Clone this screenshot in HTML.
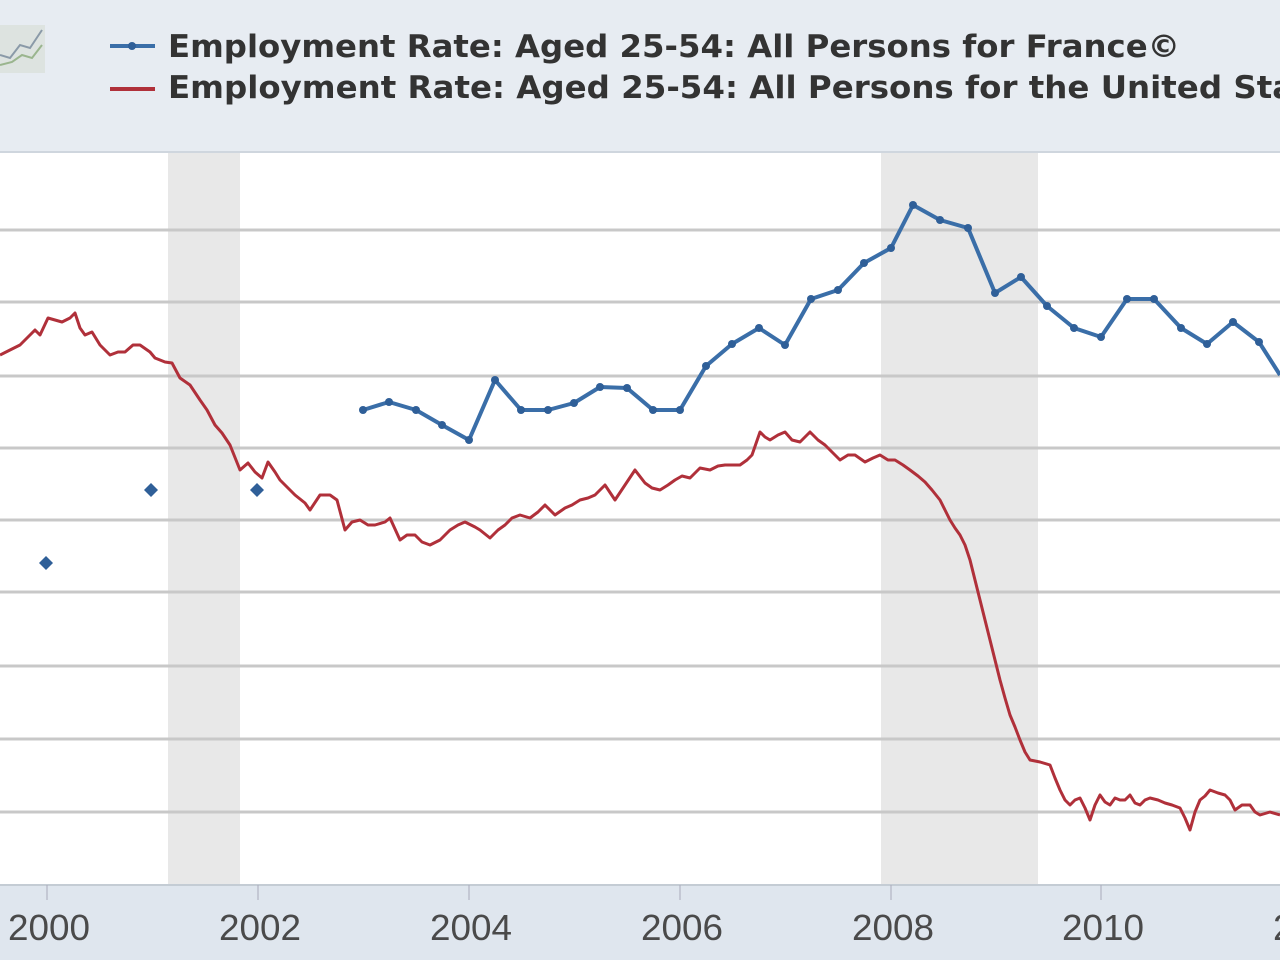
<!DOCTYPE html>
<html><head><style>
html,body{margin:0;padding:0;width:1280px;height:960px;overflow:hidden;background:#fff;font-family:"DejaVu Sans","Liberation Sans",sans-serif}
</style></head><body>
<svg width="1280" height="960" viewBox="0 0 1280 960" xmlns="http://www.w3.org/2000/svg">
<rect x="0" y="0" width="1280" height="152" fill="#e7ecf2"/>
<line x1="0" y1="152" x2="1280" y2="152" fill="none" stroke="#cfd6de" stroke-width="2"/>
<rect x="0" y="153" width="1280" height="732" fill="#fff"/>
<rect x="168" y="153" width="72" height="732" fill="#e8e8e8"/>
<rect x="881" y="153" width="157" height="732" fill="#e8e8e8"/>
<g stroke="#c8c8c8" stroke-width="3">
<line x1="0" y1="230" x2="1280" y2="230"/><line x1="0" y1="302" x2="1280" y2="302"/>
<line x1="0" y1="376" x2="1280" y2="376"/><line x1="0" y1="448" x2="1280" y2="448"/>
<line x1="0" y1="520" x2="1280" y2="520"/><line x1="0" y1="592" x2="1280" y2="592"/>
<line x1="0" y1="666" x2="1280" y2="666"/><line x1="0" y1="739" x2="1280" y2="739"/>
<line x1="0" y1="812" x2="1280" y2="812"/>
</g>
<rect x="0" y="885" width="1280" height="75" fill="#dfe6ee"/>
<line x1="0" y1="885" x2="1280" y2="885" stroke="#c4ccd4" stroke-width="2"/>
<g stroke="#aab" stroke-width="1">
<line x1="47" y1="885" x2="47" y2="900"/><line x1="258" y1="885" x2="258" y2="900"/><line x1="469" y1="885" x2="469" y2="900"/><line x1="680" y1="885" x2="680" y2="900"/><line x1="891" y1="885" x2="891" y2="900"/><line x1="1101" y1="885" x2="1101" y2="900"/>
</g>
<g font-size="36" fill="#4a4a4a" font-family="Liberation Sans, sans-serif" lengthAdjust="spacingAndGlyphs">
<text x="8" y="940" textLength="82" lengthAdjust="spacingAndGlyphs">2000</text>
<text x="219" y="940" textLength="82" lengthAdjust="spacingAndGlyphs">2002</text>
<text x="430" y="940" textLength="82" lengthAdjust="spacingAndGlyphs">2004</text>
<text x="641" y="940" textLength="82" lengthAdjust="spacingAndGlyphs">2006</text>
<text x="852" y="940" textLength="82" lengthAdjust="spacingAndGlyphs">2008</text>
<text x="1062" y="940" textLength="82" lengthAdjust="spacingAndGlyphs">2010</text>
<text x="1273" y="940" textLength="82" lengthAdjust="spacingAndGlyphs">2012</text>
</g>
<polyline fill="none" stroke="#b0303a" stroke-width="3" stroke-linejoin="round" points="0,355 10,350 20,345 30,335 35,330 40,335 48,318 55,320 62,322 70,318 75,313 80,328 85,335 92,332 100,345 110,355 118,352 125,352 133,345 140,345 150,352 155,358 165,362 172,363 180,378 190,385 200,400 207,410 215,425 222,433 230,445 240,470 248,463 255,472 262,478 268,462 275,472 280,480 295,495 305,503 310,510 320,495 330,495 337,500 345,530 352,522 360,520 368,525 375,525 385,522 390,518 400,540 407,535 415,535 422,542 430,545 440,540 450,530 458,525 465,522 475,527 480,530 490,538 498,530 505,525 512,518 520,515 530,518 538,512 545,505 555,515 565,508 572,505 580,500 588,498 595,495 602,488 605,485 615,500 625,485 635,470 645,483 652,488 660,490 668,485 675,480 682,476 690,478 700,468 710,470 718,466 725,465 732,465 740,465 747,460 752,455 760,432 765,437 770,440 778,435 785,432 792,440 800,442 810,432 818,440 825,445 832,452 840,460 848,455 855,455 865,462 873,458 880,455 888,460 895,460 903,465 910,470 918,476 925,482 932,490 940,500 945,510 950,520 955,528 960,535 965,545 970,560 975,580 980,600 985,620 990,640 995,660 1000,680 1005,698 1010,715 1015,727 1020,740 1025,752 1030,760 1040,762 1050,765 1055,778 1060,790 1065,800 1070,805 1075,800 1080,798 1085,808 1090,820 1095,805 1100,795 1105,802 1110,805 1115,798 1120,800 1125,800 1130,795 1135,803 1140,805 1145,800 1150,798 1158,800 1165,803 1172,805 1180,808 1185,818 1190,830 1195,812 1200,800 1205,796 1210,790 1218,793 1225,795 1230,800 1235,810 1242,805 1250,805 1255,812 1260,815 1270,812 1280,815"/>
<polyline fill="none" stroke="#3a6ea8" stroke-width="4" stroke-linejoin="round" points="363,410 389,402 416,410 442,425 469,440 495,380 521,410 548,410 574,403 600,387 627,388 653,410 680,410 706,366 732,344 759,328 785,345 811,299 838,290 864,263 891,248 913,205 940,220 968,228 995,293 1021,277 1047,306 1074,328 1101,337 1127,299 1154,299 1181,328 1207,344 1233,322 1259,342 1280,375"/>
<g fill="#2f5f98">
<path d="M46,556 l7,7 -7,7 -7,-7z"/><path d="M151,483 l7,7 -7,7 -7,-7z"/><path d="M257,483 l7,7 -7,7 -7,-7z"/>
</g>
<g fill="#2f5f98">
<circle cx="363" cy="410" r="4"/><circle cx="389" cy="402" r="4"/><circle cx="416" cy="410" r="4"/><circle cx="442" cy="425" r="4"/><circle cx="469" cy="440" r="4"/><circle cx="495" cy="380" r="4"/><circle cx="521" cy="410" r="4"/><circle cx="548" cy="410" r="4"/><circle cx="574" cy="403" r="4"/><circle cx="600" cy="387" r="4"/><circle cx="627" cy="388" r="4"/><circle cx="653" cy="410" r="4"/><circle cx="680" cy="410" r="4"/><circle cx="706" cy="366" r="4"/><circle cx="732" cy="344" r="4"/><circle cx="759" cy="328" r="4"/><circle cx="785" cy="345" r="4"/><circle cx="811" cy="299" r="4"/><circle cx="838" cy="290" r="4"/><circle cx="864" cy="263" r="4"/><circle cx="891" cy="248" r="4"/><circle cx="913" cy="205" r="4"/><circle cx="940" cy="220" r="4"/><circle cx="968" cy="228" r="4"/><circle cx="995" cy="293" r="4"/><circle cx="1021" cy="277" r="4"/><circle cx="1047" cy="306" r="4"/><circle cx="1074" cy="328" r="4"/><circle cx="1101" cy="337" r="4"/><circle cx="1127" cy="299" r="4"/><circle cx="1154" cy="299" r="4"/><circle cx="1181" cy="328" r="4"/><circle cx="1207" cy="344" r="4"/><circle cx="1233" cy="322" r="4"/><circle cx="1259" cy="342" r="4"/>
</g>
<!-- icon -->
<rect x="0" y="25" width="45" height="48" fill="#dde3e0"/>
<polyline points="0,55 10,58 20,45 30,48 42,30" fill="none" stroke="#8a9aa8" stroke-width="2"/>
<polyline points="0,65 12,62 22,55 32,58 42,45" fill="none" stroke="#9ab58e" stroke-width="2"/>
<!-- legend -->
<line x1="110" y1="46" x2="155" y2="46" stroke="#3a6ea8" stroke-width="4"/>
<circle cx="132" cy="46" r="4" fill="#2f5f98"/>
<line x1="110" y1="89" x2="155" y2="89" stroke="#b0303a" stroke-width="4"/>
<g font-size="31" font-weight="bold" fill="#333" font-family="DejaVu Sans, sans-serif">
<text x="168" y="57" textLength="1012" lengthAdjust="spacingAndGlyphs">Employment Rate: Aged 25-54: All Persons for France©</text>
<text x="168" y="98" textLength="1183" lengthAdjust="spacingAndGlyphs">Employment Rate: Aged 25-54: All Persons for the United States</text>
</g>
</svg>
</body></html>
